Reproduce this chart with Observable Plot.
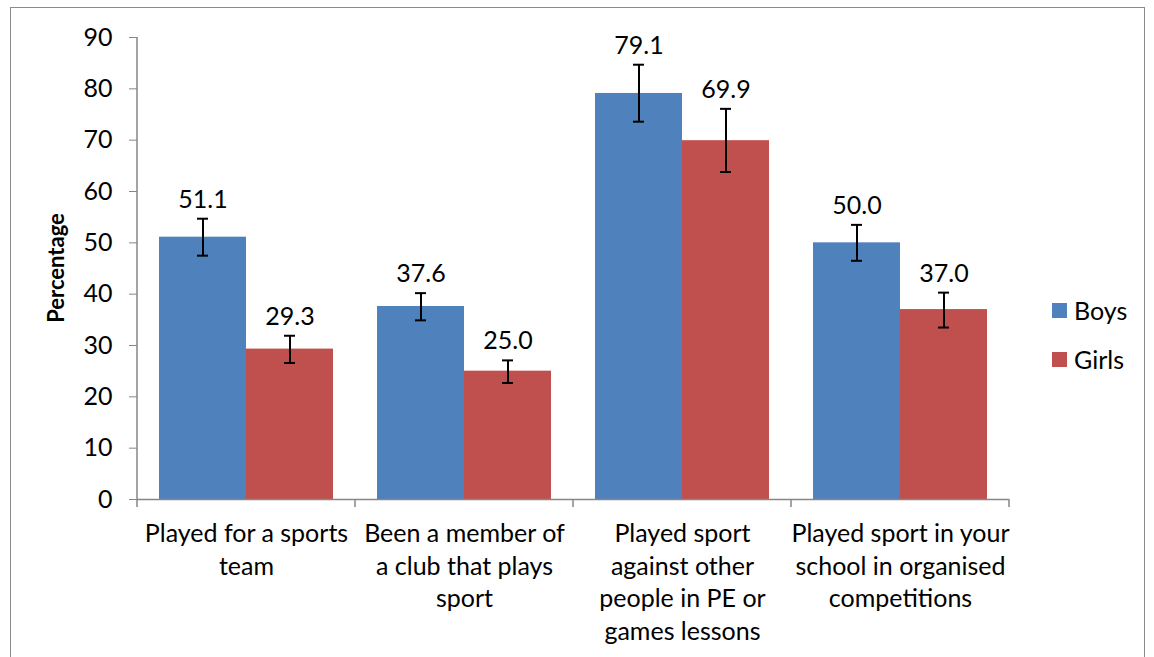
<!DOCTYPE html>
<html><head><meta charset="utf-8">
<script src="https://cdn.jsdelivr.net/npm/d3@7"></script>
<script src="https://cdn.jsdelivr.net/npm/@observablehq/plot@0.6"></script>
<style>
body{margin:0;background:#fff;}
#wrap{position:relative;width:1154px;height:657px;overflow:hidden;font-family:Lato,sans-serif;color:#000;}
#border{position:absolute;left:10px;top:7px;width:1135px;height:700px;border:1px solid #8a8a8a;box-sizing:border-box;}
#chart{position:absolute;left:0;top:0;}
.leg{position:absolute;left:1052px;font-size:25px;display:flex;align-items:center;line-height:1;}
.sw{width:15px;height:15px;margin-right:7px;}
#ylab{position:absolute;left:55px;top:268px;transform:translate(-50%,-50%) rotate(-90deg);font-weight:bold;font-size:22px;white-space:nowrap;}
</style></head><body>
<div id="wrap"><div id="border"></div><div id="chart"></div><div id="ylab"></div><div id="legend"></div></div>
<script>
const categories = [
  "Played for a sports team",
  "Been a member of a club that plays sport",
  "Played sport against other people in PE or games lessons",
  "Played sport in your school in organised competitions"
];
const tickLabels = [
  "Played for a sports\nteam",
  "Been a member of\na club that plays\nsport",
  "Played sport\nagainst other\npeople in PE or\ngames lessons",
  "Played sport in your\nschool in organised\ncompetitions"
];
const groups = ["Boys", "Girls"];
const boys = [51.1, 37.6, 79.1, 50.0];
const girls = [29.3, 25.0, 69.9, 37.0];
const boysLow = [47.5, 34.9, 73.6, 46.5];
const boysHigh = [54.7, 40.2, 84.7, 53.5];
const girlsLow = [26.6, 22.7, 63.8, 33.5];
const girlsHigh = [31.9, 27.1, 76.1, 40.3];
const yTicks = [0, 10, 20, 30, 40, 50, 60, 70, 80, 90];
const colors = ["#4F81BD", "#C0504D"];
const yLabel = "Percentage";

const rows = [];
categories.forEach((c, i) => {
  rows.push({category: c, group: "Boys", value: boys[i], low: boysLow[i], high: boysHigh[i]});
  rows.push({category: c, group: "Girls", value: girls[i], low: girlsLow[i], high: girlsHigh[i]});
});

const axisColor = "#868686";
const chart = Plot.plot({
  width: 1154,
  height: 657,
  marginLeft: 136,
  marginRight: 144,
  marginTop: 37,
  marginBottom: 158,
  style: {fontFamily: "Lato, sans-serif", fontSize: "25px", color: "#000", background: "transparent", overflow: "visible"},
  fx: {domain: categories, padding: 0, label: null},
  x: {domain: groups, paddingInner: 0, paddingOuter: 0.25, axis: null},
  y: {domain: [0, 90], label: null},
  color: {domain: groups, range: colors},
  marks: [
    Plot.barY(rows, {fx: "category", x: "group", y: "value", fill: "group"}),
    Plot.ruleY([0], {stroke: axisColor, strokeWidth: 1.5}),
    Plot.ruleX(rows, {fx: "category", x: "group", y1: "low", y2: "high", stroke: "#000", strokeWidth: 2}),
    Plot.tickY(rows, {fx: "category", x: "group", y: "low", stroke: "#000", strokeWidth: 2, insetLeft: 38, insetRight: 38}),
    Plot.tickY(rows, {fx: "category", x: "group", y: "high", stroke: "#000", strokeWidth: 2, insetLeft: 38, insetRight: 38}),
    Plot.text(rows, {fx: "category", x: "group", y: "high", text: d => d.value.toFixed(1), dy: -19, fontSize: 25, fill: "#000"}),
    Plot.axisY({ticks: yTicks, tickSize: 8, tickPadding: 17, stroke: axisColor, fontSize: 25, label: null}),
    Plot.axisFx({anchor: "bottom", tickSize: 0, tickPadding: 19, fontSize: 25, lineHeight: 1.31, label: null,
      tickFormat: d => tickLabels[categories.indexOf(d)]})
  ]
});

// axis line and category boundary ticks drawn from the plot's own scales
const svg = d3.select(chart);
const fx = chart.scale("fx");
const ys = chart.scale("y");
const y0 = ys.apply(0), y90 = ys.apply(90);
const edges = categories.map(c => fx.apply(c)).concat([fx.apply(categories[categories.length - 1]) + fx.bandwidth]);
const g = svg.append("g").attr("stroke", axisColor).attr("stroke-width", 1.5);
g.append("line").attr("x1", edges[0]).attr("x2", edges[0]).attr("y1", y90).attr("y2", y0);
edges.forEach(x => g.append("line").attr("x1", x).attr("x2", x).attr("y1", y0).attr("y2", y0 + 8));

document.getElementById("chart").appendChild(chart);
document.getElementById("ylab").textContent = yLabel;

const legend = document.getElementById("legend");
groups.forEach((gname, i) => {
  const d = document.createElement("div");
  d.className = "leg";
  d.style.top = (298 + i * 49) + "px";
  d.innerHTML = `<div class="sw" style="background:${colors[i]}"></div><span>${gname}</span>`;
  legend.appendChild(d);
});
</script>
</body></html>
